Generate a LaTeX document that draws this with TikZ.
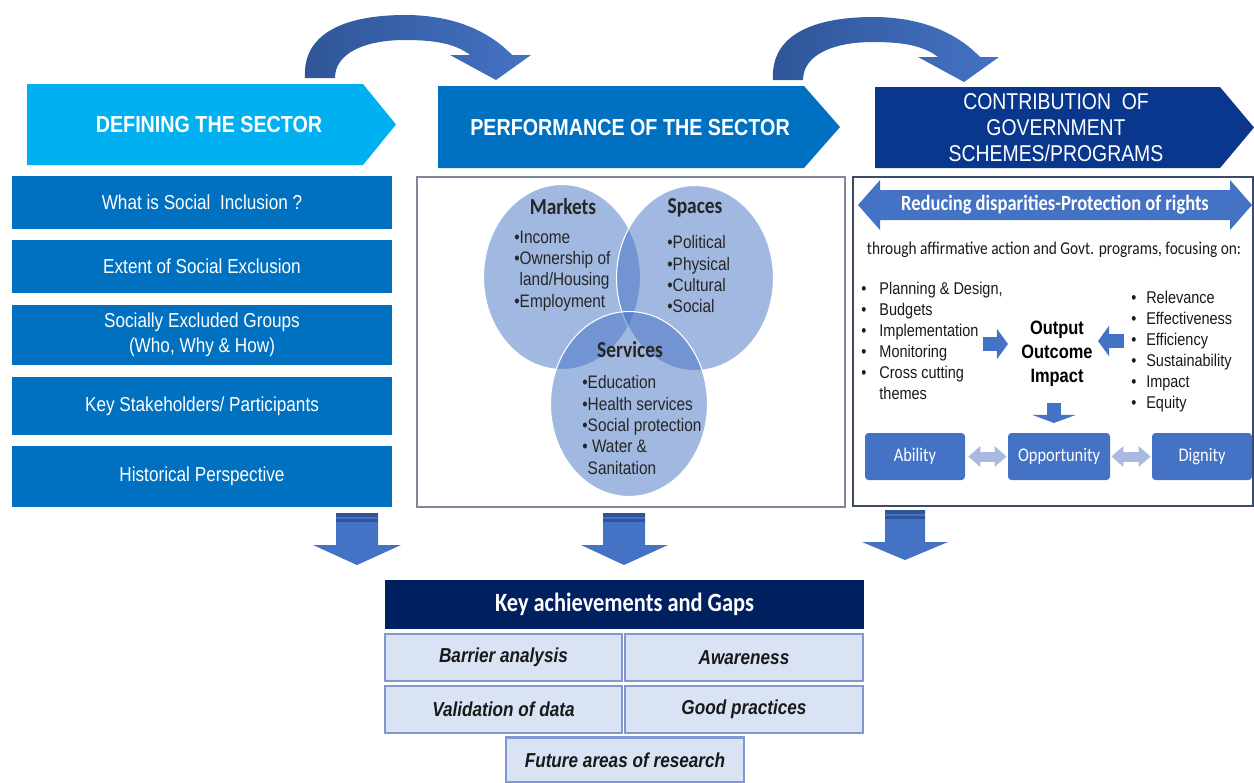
\documentclass[tikz,border=0pt]{standalone}
\usepackage{fontspec}
\setmainfont{Liberation Sans}[FakeStretch=0.85]
\newfontfamily\calfont{Carlito}[FakeStretch=0.85]
\usetikzlibrary{arrows.meta, shapes.geometric}

\definecolor{skyblue}{HTML}{00B0F0}
\definecolor{midblue}{HTML}{0070C0}
\definecolor{navy}{HTML}{0A378E}
\definecolor{darknavy}{HTML}{002060}
\definecolor{accent}{HTML}{4472C4}
\definecolor{accentdark}{HTML}{2F5597}
\definecolor{paleblue}{HTML}{DAE3F3}
\definecolor{paleedge}{HTML}{8197CF}
\definecolor{lightarrow}{HTML}{A9B9E0}
\definecolor{panelgray}{HTML}{7F8799}
\definecolor{paneldark}{HTML}{3E4B68}

\begin{document}
\begin{tikzpicture}
  [x=0.02cm, y=-0.02cm,
   heading/.style={text=white, align=center, font=\bfseries\fontsize{13.2}{15}\selectfont},
   leftbox/.style={fill=midblue, text=white, align=center, inner sep=0, minimum width=7.6cm, font=\fontsize{11.5}{14.2}\selectfont},
   venn/.style={ellipse, fill=accent, fill opacity=0.5, draw=white, line width=0.6pt, minimum width=3.14cm, minimum height=3.7cm, inner sep=0},
   venntitle/.style={text=black!85, font=\calfont\bfseries\fontsize{13}{15}\selectfont},
   vennlist/.style={anchor=north west, align=left, inner sep=0, text=black!85, font=\fontsize{10.3}{12.1}\selectfont},
   sidelist/.style={anchor=north west, align=left, inner sep=0, text=black!90, font=\fontsize{9.7}{11.9}\selectfont},
   valuebox/.style={fill=accent, rounded corners=2pt, text=white, minimum width=2cm, minimum height=0.94cm, font=\calfont\fontsize{11}{13}\selectfont},
   fatarrow/.style={accent, line width=8.5pt, -{Triangle[length=6.3pt, width=17pt]}},
   twoway/.style={lightarrow, line width=5.7pt, {Triangle[length=6.8pt, width=11.4pt]}-{Triangle[length=6.8pt, width=11.4pt]}},
   gapbox/.style={fill=darknavy, text=white, minimum width=9.58cm, minimum height=0.98cm, font=\calfont\bfseries\fontsize{15}{17}\selectfont},
   gridbox/.style={fill=paleblue, draw=paleedge, line width=1.2pt, minimum width=4.7cm, minimum height=0.94cm, text=black!90, font=\bfseries\itshape\fontsize{11.5}{13}\selectfont}]

  \useasboundingbox (0,0) rectangle (1254,782);

  % curved arrows over the headers
  \shade[left color=accentdark, right color=accent] (305,78) .. controls (302,28) and (355,15) .. (405,15) .. controls (455,15) and (490,32) .. (512,55) -- (531,55) -- (496,80) -- (450,55) -- (470,55) .. controls (455,43) and (432,40) .. (405,40) .. controls (365,40) and (335,53) .. (335,78) -- cycle;
  \begin{scope}[shift={(468,2)}]
    \shade[left color=accentdark, right color=accent] (305,78) .. controls (302,28) and (355,15) .. (405,15) .. controls (455,15) and (490,32) .. (512,55) -- (531,55) -- (496,80) -- (450,55) -- (470,55) .. controls (455,43) and (432,40) .. (405,40) .. controls (365,40) and (335,53) .. (335,78) -- cycle;
  \end{scope}

  % headers
  \fill[skyblue] (27,84) -- (363,84) -- (396,124.5) -- (363,165) -- (27,165) -- cycle;
  \node[heading] (define) at (209,125) {DEFINING THE SECTOR};
  \fill[midblue] (438,86) -- (804,86) -- (840,127) -- (804,168) -- (438,168) -- cycle;
  \node[heading] (perform) at (630,128) {PERFORMANCE OF THE SECTOR};
  \fill[navy] (875,87) -- (1220,87) -- (1254,127.5) -- (1220,168) -- (875,168) -- cycle;
  \node[heading, font=\fontsize{13}{14.8}\selectfont] (contrib) at (1056,128) {CONTRIBUTION~~OF\\GOVERNMENT\\SCHEMES/PROGRAMS};

  % left column
  \node[leftbox, minimum height=1.06cm] (whatis) at (202,202.5) {What is Social~~Inclusion ?};
  \node[leftbox, minimum height=1.06cm] (extent) at (202,266.5) {Extent of Social Exclusion};
  \node[leftbox, minimum height=1.2cm] (groups) at (202,335) {Socially Excluded Groups\\(Who, Why \& How)};
  \node[leftbox, minimum height=1.16cm] (actors) at (202,406) {Key Stakeholders/ Participants};
  \node[leftbox, minimum height=1.22cm] (history) at (202,476.5) {Historical Perspective};

  % middle panel
  \draw[panelgray, line width=1pt, fill=white] (417,177) rectangle (845,507);
  \node[venn] (markets) at (562,277) {};
  \node[venn] (spaces) at (695,278) {};
  \node[venn] (services) at (629,404) {};
  \node[venntitle] (mkt) at (563,207) {Markets};
  \node[venntitle] (spc) at (695,208) {Spaces};
  \node[venntitle] (srv) at (630,350) {Services};
  \node[vennlist] (mktlist) at (514,230.5) {\textbullet Income\\\textbullet Ownership of\\\phantom{\textbullet}land/Housing\\\textbullet Employment};
  \node[vennlist] (spclist) at (667,235.5) {\textbullet Political\\\textbullet Physical\\\textbullet Cultural\\\textbullet Social};
  \node[vennlist] (srvlist) at (582,375.5) {\textbullet Education\\\textbullet Health services\\\textbullet Social protection\\\textbullet\ Water \&\\\phantom{\textbullet}Sanitation};

  % right panel
  \draw[paneldark, line width=1.2pt] (853,177) rectangle (1253,506);
  \fill[accent] (858,205) -- (880,180) -- (880,190) -- (1230,190) -- (1230,180) -- (1252,205) -- (1230,230) -- (1230,220) -- (880,220) -- (880,230) -- cycle;
  \node[text=white, font=\calfont\bfseries\fontsize{12.4}{14}\selectfont] (reduce) at (1055,205) {Reducing disparities-Protection of rights};
  \node[text=black!90, font=\calfont\fontsize{10.3}{12}\selectfont] (through) at (1054,250) {through affirmative action and Govt. programs, focusing on:};
  \node[sidelist] (inputs) at (861,282) {\makebox[10.3pt][l]{\textbullet}Planning \& Design,\\\makebox[10.3pt][l]{\textbullet}Budgets\\\makebox[10.3pt][l]{\textbullet}Implementation\\\makebox[10.3pt][l]{\textbullet}Monitoring\\\makebox[10.3pt][l]{\textbullet}Cross cutting\\\hspace*{10.3pt}themes};
  \node[sidelist] (criteria) at (1131,291) {\makebox[8.5pt][l]{\textbullet}Relevance\\\makebox[8.5pt][l]{\textbullet}Effectiveness\\\makebox[8.5pt][l]{\textbullet}Efficiency\\\makebox[8.5pt][l]{\textbullet}Sustainability\\\makebox[8.5pt][l]{\textbullet}Impact\\\makebox[8.5pt][l]{\textbullet}Equity};
  \node[align=center, text=black, font=\bfseries\fontsize{11}{13.7}\selectfont] (results) at (1057,354) {Output\\Outcome\\Impact};
  \coordinate (inL) at (983,344);
  \coordinate (inLend) at (1008,344);
  \coordinate (inR) at (1124,341);
  \coordinate (inRend) at (1098,341);
  \coordinate (dtop) at (1054,403);
  \coordinate (dtip) at (1054,423);
  \draw[fatarrow] (inL) -- (inLend);
  \draw[fatarrow] (inR) -- (inRend);
  \draw[fatarrow, -{Triangle[length=4.6pt, width=24.5pt]}] (dtop) -- (dtip);
  \node[valuebox] (ability) at (915,456.5) {Ability};
  \node[valuebox, minimum width=2.04cm] (opport) at (1059,456.5) {Opportunity};
  \node[valuebox] (dignity) at (1202,456.5) {Dignity};
  \draw[twoway] ([xshift=1.7pt]ability.east) -- ([xshift=-0.6pt]opport.west);
  \draw[twoway] ([xshift=0.6pt]opport.east) -- ([xshift=-0.6pt]dignity.west);

  % down arrows
  \fill[accent] (336,513) -- (378,513) -- (378,545) -- (401,545) -- (357,565) -- (313,545) -- (336,545) -- cycle;
  \fill[accentdark] (336,513) rectangle (378,516.5);
  \fill[accentdark] (336,518.5) rectangle (378,522);
  \fill[accent] (603,513) -- (645,513) -- (645,545) -- (668,545) -- (624,565) -- (581,545) -- (603,545) -- cycle;
  \fill[accentdark] (603,513) rectangle (645,516.5);
  \fill[accentdark] (603,518.5) rectangle (645,522);
  \fill[accent] (885,510) -- (925,510) -- (925,542) -- (948,542) -- (905,560) -- (862,542) -- (885,542) -- cycle;
  \fill[accentdark] (885,510) rectangle (925,513.5);
  \fill[accentdark] (885,515.5) rectangle (925,519);

  % achievements and gaps
  \node[gapbox] (gaps) at (624.5,604.5) {Key achievements and Gaps};
  \node[gridbox, minimum width=4.74cm] (barrier) at (503.5,657.5) {Barrier analysis};
  \node[gridbox, minimum width=4.76cm] (aware) at (744,657.5) {Awareness};
  \node[gridbox, minimum width=4.74cm] (valid) at (503.5,709.5) {Validation of data};
  \node[gridbox, minimum width=4.76cm] (goodp) at (744,709.5) {Good practices};
  \node[gridbox, minimum width=4.76cm, minimum height=0.9cm] (future) at (625,760) {Future areas of research};
\end{tikzpicture}
\end{document}
